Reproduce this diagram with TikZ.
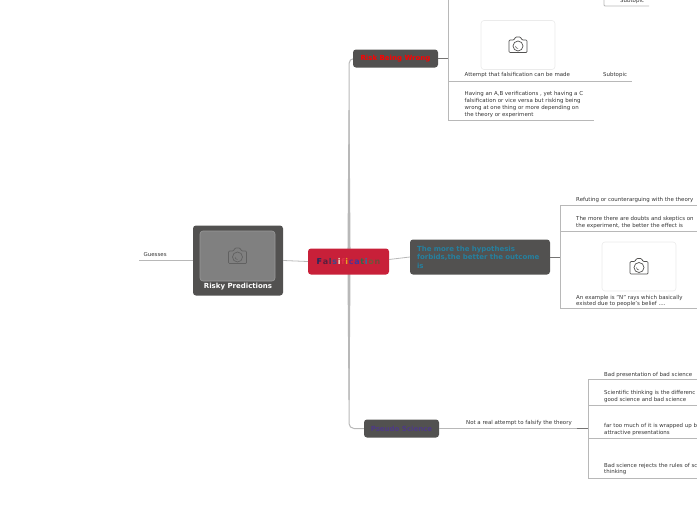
\documentclass[tikz,border=0pt]{standalone}
\usepackage{fontspec}
\setmainfont{DejaVu Sans}
\usetikzlibrary{calc}
\definecolor{topicgray}{HTML}{525150}
\definecolor{rootred}{HTML}{C82039}
\definecolor{linegray}{HTML}{B8B8B8}
\definecolor{textgray}{HTML}{333333}
\definecolor{forbidsteal}{HTML}{25809F}
\definecolor{pseudoviolet}{HTML}{4E3A86}
\tikzset{
  topic/.style={fill=topicgray, rounded corners=3pt, inner sep=0pt, font=\bfseries\fontsize{7}{8.5}\selectfont},
  leaf/.style={text=textgray, anchor=west, inner sep=0pt, align=left, font=\fontsize{5.45}{6.9}\selectfont},
  link/.style={draw=linegray, line width=0.8pt},
  darklink/.style={draw=topicgray!80, line width=0.9pt},
  imagebox/.style={draw=black!8, fill=white, rounded corners=3pt, line width=0.6pt},
}
% camera glyph, centred on the given point
\newcommand{\camera}[2]{%
  \draw[#2, line width=0.7pt, rounded corners=1pt] ($(#1)+(-9,-5)$) -- ($(#1)+(-4,-5)$) -- ($(#1)+(-2.5,-8)$) -- ($(#1)+(2.5,-8)$) -- ($(#1)+(4,-5)$) -- ($(#1)+(9,-5)$) -- ($(#1)+(9,7.5)$) -- ($(#1)+(-9,7.5)$) -- cycle;
  \draw[#2, line width=0.7pt] ($(#1)+(0,1)$) circle (5pt);
  \draw[#2, line width=0.5pt] ($(#1)+(-2.5,1)$) arc (180:270:2.5pt);
}
% one spaced letter of the root label
\newcommand{\rootletter}[2]{\textcolor[HTML]{#1}{#2}\kern0.7pt}
\begin{document}
\begin{tikzpicture}[x=1pt,y=-1pt]
\useasboundingbox (0,0) rectangle (697,520);
\clip (0,0) rectangle (697,520);

% spine
\coordinate (spine) at (349,261);
\draw[link, line width=1pt, rounded corners=5pt] (353,58.5) -- (349,58.5) -- (spine);
\draw[link, line width=1pt, rounded corners=5pt] (364,428.5) -- (349,428.5) -- (spine);
\fill[linegray] (348.5,110) -- (349.5,110) -- (350.6,261) -- (349.5,400) -- (348.5,400) -- (347.4,261) -- cycle;

% root and main topics
\node[topic, fill=rootred, minimum width=81pt, minimum height=26pt] (root) at (348.5,261.5) {\fontsize{8}{9}\selectfont
  \rootletter{1E2A5E}{F}\rootletter{5A1E3C}{a}\rootletter{3A3A55}{l}\rootletter{3C4A8C}{s}\rootletter{F2E6C8}{i}\rootletter{E0304A}{f}\rootletter{E8A020}{i}\rootletter{5B2D90}{c}\rootletter{3E3A9C}{a}\rootletter{2E6B4A}{t}\rootletter{1E78A8}{i}\rootletter{6E5A3A}{o}\textcolor[HTML]{6E4A3A}{n}};
\node[topic, minimum width=90pt, minimum height=70pt] (risky) at (238,260.5) {};
\node[draw=black!40, fill=black!50, rounded corners=3pt, minimum width=75pt, minimum height=50pt, inner sep=0pt, line width=0.6pt] (riskyimg) at (237.5,256) {};
\node[text=white, font=\bfseries\fontsize{7}{8}\selectfont, inner sep=0pt] (riskylabel) at (238,286.5) {Risky Predictions};
\node[topic, text=red, minimum width=85pt, minimum height=18pt] (wrong) at (395.5,58.5) {Risk Being Wrong};
\node[topic, text=forbidsteal, minimum width=140pt, minimum height=35pt, align=left, text width=126pt] (forbids) at (480,257) {The more the hypothesis\\forbids,the better the outcome\\is};
\node[topic, text=pseudoviolet, minimum width=75pt, minimum height=18pt] (pseudo) at (401.5,428.5) {Pseudo Science};

% left branch
\node[leaf] (guesses) at (143.5,255) {Guesses};
\coordinate (guessesend) at (139,260.5);
\draw[link] (guessesend) -- (risky.west);
\draw[link] (risky.east) -- (root.west);
\coordinate (rootout) at (389,259.5);
\draw[link] (rootout) -- (forbids.west);

% top branch
\coordinate (wrongbus) at (448.5,58.5);
\coordinate (wrongtop) at (448.5,0);
\node[leaf] (attempt) at (464.5,75) {Attempt that falsification can be made};
\node[leaf] (subtopicb) at (603,75) {Subtopic};
\node[leaf] (having) at (464.5,104.5) {Having an A,B verifications , yet having a C\\falsification or vice versa but risking being\\wrong at one thing or more depending on\\the theory or experiment};
\node[leaf] (subtopica) at (620,0.5) {Subtopic};
\node[imagebox, minimum width=74pt, minimum height=49pt] (wrongimg) at (518,45) {};
\coordinate (attemptend) at (632,81);
\coordinate (havingend) at (594,120);
\draw[darklink] (wrong.east) -- (wrongbus);
\draw[link] (wrongtop) -- (448.5,120) -- (havingend);
\draw[link] (448.5,81) -- (attemptend);
\draw[link, rounded corners=1pt] (604,0) -- (604,6) -- (649,6);

% middle branch
\coordinate (forbidsbus) at (560,257);
\node[leaf] (refuting) at (576,200) {Refuting or counterarguing with the theory};
\node[leaf] (doubts) at (576,222.5) {The more there are doubts and skeptics on\\the experiment, the better the effect is};
\node[leaf] (nrays) at (576,301) {An example is "N" rays which basically\\existed due to people's belief ....};
\node[imagebox, minimum width=74pt, minimum height=49pt] (forbidsimg) at (639,266.5) {};
\coordinate (refutingend) at (697,205.5);
\coordinate (doubtsend) at (697,231.5);
\coordinate (nraysend) at (697,308.5);
\draw[darklink] (forbids.east) -- (forbidsbus);
\draw[link] (refutingend) -- (560,205.5) -- (560,308.5) -- (nraysend);
\draw[link] (560,231.5) -- (doubtsend);

% bottom branch
\node[leaf] (notreal) at (466,423) {Not a real attempt to falsify the theory};
\coordinate (pseudobus) at (588,428.5);
\node[leaf] (badpres) at (604,374.5) {Bad presentation of bad science};
\node[leaf] (thinking) at (604,396.5) {Scientific thinking is the differenc\\good science and bad science};
\node[leaf] (toomuch) at (604,429.5) {far too much of it is wrapped up b\\attractive presentations};
\node[leaf] (rejects) at (604,469) {Bad science rejects the rules of sc\\thinking};
\coordinate (badpresend) at (697,379.5);
\coordinate (thinkingend) at (697,405.5);
\coordinate (toomuchend) at (697,438.5);
\coordinate (rejectsend) at (697,478.5);
\draw[link] (pseudo.east) -- (pseudobus);
\draw[darklink] (577,428.5) -- (pseudobus);
\draw[link] (badpresend) -- (588,379.5) -- (588,478.5) -- (rejectsend);
\draw[link] (588,405.5) -- (thinkingend);
\draw[link] (588,438.5) -- (toomuchend);

% camera glyphs
\camera{riskyimg}{black!62}
\camera{wrongimg}{topicgray}
\camera{forbidsimg}{topicgray}
\end{tikzpicture}
\end{document}
